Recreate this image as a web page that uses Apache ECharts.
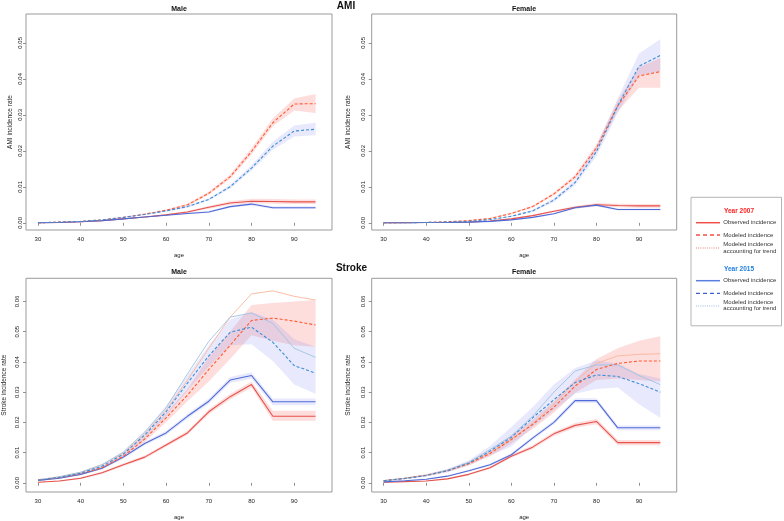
<!DOCTYPE html>
<html><head><meta charset="utf-8">
<script src="https://cdn.jsdelivr.net/npm/echarts@6/dist/echarts.min.js"></script>
<style>html,body{margin:0;padding:0;background:#fff}#c{width:784px;height:521px}</style>
</head><body><div id="c"></div>
<script>
const ages = [30,35,40,45,50,55,60,65,70,75,80,85,90,95];
const xTicks = [30,40,50,60,70,80,90];
const yTicksAMI = [0,0.01,0.02,0.03,0.04,0.05];
const yTicksStroke = [0,0.01,0.02,0.03,0.04,0.05,0.06];

// AMI Male
const amiMObs07   = [0,0.0001,0.0003,0.0006,0.0011,0.0016,0.0022,0.003,0.0043,0.0055,0.006,0.0059,0.0058,0.0058];
const amiMObs07Lo = [0,0.0001,0.0003,0.0005,0.001,0.0015,0.002,0.0027,0.0039,0.005,0.0054,0.0053,0.0052,0.0052];
const amiMObs07Hi = [0,0.0001,0.0003,0.0007,0.0012,0.0017,0.0024,0.0033,0.0047,0.006,0.0067,0.0066,0.0065,0.0065];
const amiMMod07   = [0,0.0002,0.0004,0.0008,0.0015,0.0024,0.0035,0.005,0.0082,0.0128,0.0198,0.0278,0.033,0.0331];
const amiMMod07Lo = [0,0.0002,0.0004,0.0008,0.0014,0.0023,0.0033,0.0047,0.0078,0.0122,0.019,0.0268,0.0312,0.0305];
const amiMMod07Hi = [0,0.0002,0.0004,0.0008,0.0016,0.0025,0.0037,0.0053,0.0086,0.0134,0.0207,0.029,0.0345,0.0358];
const amiMObs15   = [0,0.0001,0.0003,0.0006,0.0011,0.0016,0.0021,0.0026,0.003,0.0045,0.0052,0.0042,0.0042,0.0042];
const amiMObs15Lo = [0,0.0001,0.0003,0.0005,0.001,0.0015,0.0019,0.0024,0.0027,0.0042,0.0048,0.0038,0.0038,0.0038];
const amiMObs15Hi = [0,0.0001,0.0003,0.0007,0.0012,0.0017,0.0023,0.0028,0.0033,0.0048,0.0056,0.0046,0.0046,0.0046];
const amiMMod15   = [0,0.0002,0.0004,0.0008,0.0015,0.0023,0.0033,0.0045,0.0065,0.01,0.0152,0.0213,0.0255,0.026];
const amiMMod15Lo = [0,0.0002,0.0004,0.0008,0.0014,0.0022,0.0031,0.0042,0.0062,0.0095,0.0145,0.0203,0.024,0.0243];
const amiMMod15Hi = [0,0.0002,0.0004,0.0008,0.0016,0.0024,0.0035,0.0048,0.0068,0.0105,0.016,0.0225,0.027,0.0278];

// AMI Female
const amiFObs07   = [0,0,0.0001,0.0001,0.0002,0.0005,0.0011,0.002,0.0032,0.0043,0.005,0.0048,0.0047,0.0047];
const amiFObs07Lo = [0,0,0.0001,0.0001,0.0002,0.0004,0.0009,0.0018,0.0029,0.0039,0.0046,0.0043,0.0042,0.0042];
const amiFObs07Hi = [0,0,0.0001,0.0001,0.0002,0.0006,0.0013,0.0022,0.0035,0.0047,0.0055,0.0053,0.0052,0.0052];
const amiFMod07   = [0,0.0001,0.0001,0.0003,0.0006,0.0012,0.0026,0.0045,0.008,0.0128,0.0208,0.0325,0.0408,0.042];
const amiFMod07Lo = [0,0.0001,0.0001,0.0003,0.0005,0.0011,0.0024,0.0042,0.0076,0.0122,0.0198,0.031,0.0375,0.0375];
const amiFMod07Hi = [0,0.0001,0.0001,0.0003,0.0007,0.0013,0.0028,0.0048,0.0084,0.0134,0.0218,0.034,0.0432,0.0458];
const amiFObs15   = [0,0,0.0001,0.0001,0.0002,0.0004,0.0008,0.0015,0.0025,0.0042,0.0049,0.0037,0.0037,0.0037];
const amiFObs15Lo = [0,0,0.0001,0.0001,0.0002,0.0003,0.0007,0.0013,0.0023,0.0039,0.0046,0.0034,0.0034,0.0034];
const amiFObs15Hi = [0,0,0.0001,0.0001,0.0002,0.0005,0.0009,0.0017,0.0027,0.0045,0.0052,0.004,0.004,0.004];
const amiFMod15   = [0,0,0.0001,0.0002,0.0004,0.0009,0.0018,0.0033,0.0063,0.0112,0.0198,0.0325,0.0435,0.0465];
const amiFMod15Lo = [0,0,0.0001,0.0002,0.0003,0.0008,0.0016,0.003,0.0058,0.0104,0.0185,0.0305,0.041,0.042];
const amiFMod15Hi = [0,0,0.0001,0.0002,0.0005,0.001,0.002,0.0036,0.0068,0.012,0.0211,0.0345,0.047,0.051];

// Stroke Male
const strMObs07   = [0.0002,0.0006,0.0015,0.0033,0.006,0.0085,0.0125,0.0165,0.0235,0.0285,0.0325,0.022,0.022,0.022];
const strMObs07Lo = [0.0001,0.0004,0.0012,0.0029,0.0055,0.008,0.0119,0.0158,0.0227,0.0276,0.0315,0.0205,0.0205,0.0205];
const strMObs07Hi = [0.0003,0.0008,0.0018,0.0037,0.0065,0.009,0.0131,0.0172,0.0243,0.0294,0.0335,0.0238,0.0238,0.0238];
const strMObs15   = [0.0008,0.0015,0.0028,0.0048,0.0085,0.013,0.0165,0.022,0.027,0.034,0.0355,0.0268,0.0268,0.0268];
const strMObs15Lo = [0.0006,0.0013,0.0025,0.0044,0.008,0.0124,0.0158,0.0212,0.0261,0.033,0.0344,0.0257,0.0257,0.0257];
const strMObs15Hi = [0.001,0.0017,0.0031,0.0052,0.009,0.0136,0.0172,0.0228,0.0279,0.035,0.0366,0.0279,0.0279,0.0279];
const strMMod07   = [0.0008,0.0017,0.003,0.005,0.0088,0.0145,0.0215,0.029,0.0375,0.0455,0.0537,0.0545,0.0535,0.0522];
const strMMod07Lo = [0.0007,0.0015,0.0027,0.0046,0.0082,0.0135,0.02,0.027,0.0335,0.041,0.0488,0.047,0.0455,0.045];
const strMMod07Hi = [0.0009,0.0019,0.0033,0.0055,0.0095,0.0155,0.023,0.031,0.0415,0.05,0.0588,0.0595,0.06,0.0605];
const strMMod15   = [0.0008,0.0018,0.0032,0.0055,0.0095,0.0158,0.0235,0.033,0.042,0.0498,0.0515,0.0465,0.0388,0.0363];
const strMMod15Lo = [0.0007,0.0016,0.0029,0.005,0.0088,0.0146,0.022,0.0305,0.0385,0.0455,0.0458,0.0403,0.0325,0.0295];
const strMMod15Hi = [0.0009,0.002,0.0035,0.006,0.0103,0.017,0.0255,0.0355,0.0455,0.054,0.0565,0.054,0.0475,0.045];
const strMTrd07   = [0.001,0.002,0.0035,0.006,0.0098,0.0162,0.024,0.034,0.0445,0.0548,0.0625,0.0635,0.0617,0.0605];
const strMTrd15   = [0.001,0.002,0.0035,0.006,0.0102,0.0168,0.0248,0.036,0.0468,0.0548,0.0562,0.0527,0.0445,0.0415];

// Stroke Female
const strFObs07   = [0.0002,0.0004,0.0006,0.0013,0.0028,0.005,0.0088,0.0118,0.0162,0.019,0.0203,0.0133,0.0133,0.0133];
const strFObs07Lo = [0.0001,0.0003,0.0005,0.0011,0.0025,0.0046,0.0083,0.0112,0.0155,0.0182,0.0194,0.0124,0.0124,0.0124];
const strFObs07Hi = [0.0003,0.0005,0.0007,0.0015,0.0031,0.0054,0.0093,0.0124,0.0169,0.0198,0.0212,0.0142,0.0142,0.0142];
const strFObs15   = [0.0003,0.0007,0.0012,0.0022,0.004,0.006,0.0093,0.0148,0.02,0.0272,0.0272,0.0182,0.0182,0.0182];
const strFObs15Lo = [0.0002,0.0006,0.001,0.002,0.0037,0.0056,0.0088,0.0142,0.0193,0.0264,0.0264,0.0174,0.0174,0.0174];
const strFObs15Hi = [0.0004,0.0008,0.0014,0.0024,0.0043,0.0064,0.0098,0.0154,0.0207,0.028,0.028,0.019,0.019,0.019];
const strFMod07   = [0.0007,0.0015,0.0025,0.004,0.0063,0.0097,0.0143,0.0193,0.025,0.032,0.0375,0.0395,0.0403,0.0403];
const strFMod07Lo = [0.0006,0.0013,0.0022,0.0036,0.0057,0.0088,0.013,0.0178,0.0232,0.0298,0.034,0.0345,0.034,0.0335];
const strFMod07Hi = [0.0008,0.0017,0.0028,0.0044,0.007,0.0107,0.0157,0.0208,0.027,0.0342,0.041,0.0445,0.047,0.0485];
const strFMod15   = [0.0007,0.0014,0.0024,0.004,0.0065,0.0105,0.015,0.0215,0.0275,0.0332,0.0357,0.0352,0.0328,0.03];
const strFMod15Lo = [0.0006,0.0012,0.0021,0.0035,0.0057,0.009,0.012,0.0185,0.024,0.0295,0.031,0.0315,0.026,0.0215];
const strFMod15Hi = [0.0008,0.0016,0.0028,0.0046,0.0075,0.0122,0.0185,0.025,0.0325,0.038,0.0405,0.0395,0.036,0.0345];
const strFTrd07   = [0.0007,0.0015,0.0025,0.004,0.0064,0.0099,0.0145,0.0195,0.026,0.0335,0.0395,0.042,0.0425,0.0427];
const strFTrd15   = [0.0007,0.0015,0.0025,0.0042,0.0068,0.011,0.0155,0.022,0.03,0.037,0.039,0.039,0.0355,0.0325];

const FONT = '"Liberation Sans", Arial, Helvetica, sans-serif';
const C = {
  obs07:'#E5524C', mod07:'#FF5A30', trd07:'#F9B79A',
  obs15:'#4E6AD6', mod15:'#3C8ED4', trd15:'#9FC3E2',
  band07:'rgba(250,120,120,0.25)', band15:'rgba(125,135,240,0.18)'
};

const panels = [
  {left:26, top:14, width:306, height:216, ymin:-0.002, ymax:0.058, yt:yTicksAMI, yname:'AMI incidence rate', lm:3, ng:12.5,
   obs07:amiMObs07, obs07Lo:amiMObs07Lo, obs07Hi:amiMObs07Hi, mod07:amiMMod07, mod07Lo:amiMMod07Lo, mod07Hi:amiMMod07Hi,
   obs15:amiMObs15, obs15Lo:amiMObs15Lo, obs15Hi:amiMObs15Hi, mod15:amiMMod15, mod15Lo:amiMMod15Lo, mod15Hi:amiMMod15Hi},
  {left:371.7, top:14, width:305, height:216, ymin:-0.002, ymax:0.058, yt:yTicksAMI, yname:'AMI incidence rate', lm:5.5, ng:19.5,
   obs07:amiFObs07, obs07Lo:amiFObs07Lo, obs07Hi:amiFObs07Hi, mod07:amiFMod07, mod07Lo:amiFMod07Lo, mod07Hi:amiFMod07Hi,
   obs15:amiFObs15, obs15Lo:amiFObs15Lo, obs15Hi:amiFObs15Hi, mod15:amiFMod15, mod15Lo:amiFMod15Lo, mod15Hi:amiFMod15Hi},
  {left:26, top:278.3, width:306, height:216, ymin:-0.00304, ymax:0.06766, yt:yTicksStroke, yname:'Stroke incidence rate', lm:5.3, ng:18,
   obs07:strMObs07, obs07Lo:strMObs07Lo, obs07Hi:strMObs07Hi, mod07:strMMod07, mod07Lo:strMMod07Lo, mod07Hi:strMMod07Hi,
   obs15:strMObs15, obs15Lo:strMObs15Lo, obs15Hi:strMObs15Hi, mod15:strMMod15, mod15Lo:strMMod15Lo, mod15Hi:strMMod15Hi,
   trd07:strMTrd07, trd15:strMTrd15},
  {left:371.7, top:278.3, width:305, height:216, ymin:-0.00304, ymax:0.06766, yt:yTicksStroke, yname:'Stroke incidence rate', lm:5.5, ng:19.5,
   obs07:strFObs07, obs07Lo:strFObs07Lo, obs07Hi:strFObs07Hi, mod07:strFMod07, mod07Lo:strFMod07Lo, mod07Hi:strFMod07Hi,
   obs15:strFObs15, obs15Lo:strFObs15Lo, obs15Hi:strFObs15Hi, mod15:strFMod15, mod15Lo:strFMod15Lo, mod15Hi:strFMod15Hi,
   trd07:strFTrd07, trd15:strFTrd15}
];

const grids = [], xAxes = [], yAxes = [], series = [];

function band(gi, lo, hi, color) {
  return {
    type:'custom', xAxisIndex:gi, yAxisIndex:gi, silent:true, z:1, clip:true,
    data: ages.map((a,i)=>[a, lo[i], hi[i]]),
    encode:{x:0, y:[1,2]},
    renderItem: function(params, api){
      if (params.dataIndex !== 0) return null;
      const top = [], bot = [];
      for (let i=0;i<ages.length;i++){ top.push(api.coord([ages[i], hi[i]])); bot.push(api.coord([ages[i], lo[i]])); }
      return {type:'polygon', shape:{points: top.concat(bot.reverse())}, style:{fill:color, stroke:null}};
    }
  };
}
function line(gi, vals, color, width, type, z) {
  return {
    type:'line', xAxisIndex:gi, yAxisIndex:gi, showSymbol:false, silent:true, z:z||3,
    data: ages.map((a,i)=>[a, vals[i]]),
    lineStyle:{color:color, width:width, type:type||'solid'},
    emphasis:{disabled:true}
  };
}

panels.forEach((p, gi) => {
  grids.push({left:p.left, top:p.top, width:p.width, height:p.height, show:true, borderColor:'#9a9a9a', borderWidth:1, backgroundColor:'transparent'});
  xAxes.push({
    gridIndex:gi, type:'value', min:27.2, max:98.85,
    axisLine:{show:false}, splitLine:{show:false},
    axisTick:{show:true, customValues:xTicks, length:3, lineStyle:{color:'#777', width:0.8}},
    axisLabel:{customValues:xTicks, fontSize:6, color:'#222', margin:6, fontFamily:FONT},
    name:'age', nameLocation:'middle', nameGap:22, nameTextStyle:{fontSize:6, color:'#222', fontFamily:FONT}
  });
  yAxes.push({
    gridIndex:gi, type:'value', min:p.ymin, max:p.ymax,
    axisLine:{show:false}, splitLine:{show:false},
    axisTick:{show:true, customValues:p.yt, length:3, lineStyle:{color:'#777', width:0.8}},
    axisLabel:{customValues:p.yt, fontSize:6, color:'#222', margin:p.lm, rotate:90, fontFamily:FONT, formatter:v=>v.toFixed(2)},
    name:p.yname, nameLocation:'middle', nameRotate:90, nameGap:p.ng, nameTextStyle:{fontSize:6.5, color:'#222', fontFamily:FONT}
  });
  series.push(band(gi, p.mod07Lo, p.mod07Hi, C.band07));
  series.push(band(gi, p.mod15Lo, p.mod15Hi, C.band15));
  series.push(band(gi, p.obs07Lo, p.obs07Hi, C.band07));
  series.push(band(gi, p.obs15Lo, p.obs15Hi, C.band15));
  if (p.trd07) series.push(line(gi, p.trd07, C.trd07, 0.9, 'solid', 2));
  if (p.trd15) series.push(line(gi, p.trd15, C.trd15, 0.9, 'solid', 2));
  series.push(line(gi, p.obs07, C.obs07, 1.1, 'solid', 3));
  series.push(line(gi, p.obs15, C.obs15, 1.1, 'solid', 3));
  series.push(line(gi, p.mod07, C.mod07, 1.1, [3,2], 4));
  series.push(line(gi, p.mod15, C.mod15, 1.1, [3,2], 4));
});

function txt(x, y, text, size, opts) {
  opts = opts || {};
  return {type:'text', x:x, y:y, silent:true, z:10, style:{text:text, font:(opts.bold?'bold ':'')+size+'px '+FONT, fill:opts.color||'#111',
    align:opts.align||'center', verticalAlign:'middle', textAlign:opts.align||'center', textVerticalAlign:'middle'}};
}
function lg(x1, x2, y, color, dash, width) {
  return {type:'line', silent:true, z:10, shape:{x1:x1, y1:y, x2:x2, y2:y}, style:{stroke:color, lineWidth:width||1.2, lineDash:dash||null}};
}

const graphics = [
  txt(346, 6.5, 'AMI', 10, {bold:true}),
  txt(351.5, 268, 'Stroke', 10, {bold:true}),
  txt(179, 9.3, 'Male', 7, {bold:true}),
  txt(524, 9.3, 'Female', 7, {bold:true}),
  txt(179, 272.3, 'Male', 7, {bold:true}),
  txt(524, 272.3, 'Female', 7, {bold:true}),
  {type:'rect', silent:true, z:9, shape:{x:691, y:197.3, width:90.5, height:128.5}, style:{fill:'#fff', stroke:'#b5b5b5', lineWidth:1}},
  txt(739, 211, 'Year 2007', 6.5, {bold:true, color:'#FF2020'}),
  lg(696, 720, 222.7, '#F0504A', null, 1.5),
  txt(723.3, 222.7, 'Observed incidence', 6, {align:'left', color:'#333'}),
  lg(696, 720, 235, '#F0504A', [4,3], 1.3),
  txt(723.3, 235, 'Modeled incidence', 6, {align:'left', color:'#333'}),
  lg(696, 720, 248, '#F07F7F', [1,1.2], 1),
  txt(723.3, 244, 'Modeled incidence', 6, {align:'left', color:'#333'}),
  txt(723.3, 251, 'accounting for trend', 6, {align:'left', color:'#333'}),
  txt(739, 269, 'Year 2015', 6.5, {bold:true, color:'#1E7FE0'}),
  lg(696, 720, 280.7, '#5B7FE0', null, 1.5),
  txt(723.3, 280.7, 'Observed incidence', 6, {align:'left', color:'#333'}),
  lg(696, 720, 293.3, '#3E5FCF', [4,3], 1.3),
  txt(723.3, 293.3, 'Modeled incidence', 6, {align:'left', color:'#333'}),
  lg(696, 720, 306, '#9FB8E8', [1,1.2], 1),
  txt(723.3, 302.7, 'Modeled incidence', 6, {align:'left', color:'#333'}),
  txt(723.3, 308.7, 'accounting for trend', 6, {align:'left', color:'#333'})
];

const chart = echarts.init(document.getElementById('c'), null, {renderer:'canvas'});
chart.setOption({
  animation:false, backgroundColor:'#fff',
  grid:grids, xAxis:xAxes, yAxis:yAxes, series:series, graphic:graphics
});
</script></body></html>
